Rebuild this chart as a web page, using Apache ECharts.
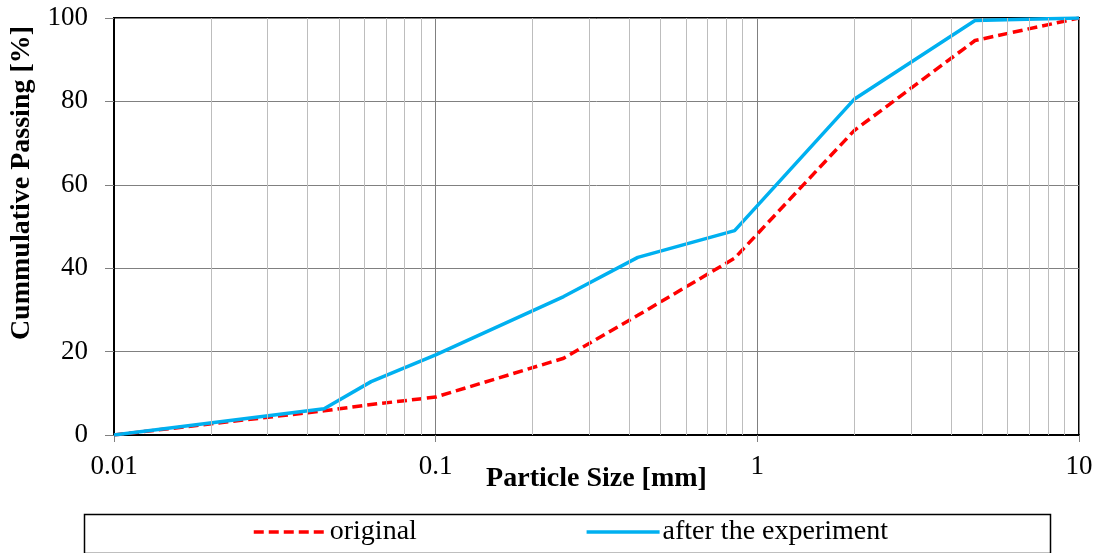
<!DOCTYPE html>
<html>
<head>
<meta charset="utf-8">
<script src="https://cdn.jsdelivr.net/npm/echarts@6/dist/echarts.min.js"></script>
<style>html,body{margin:0;padding:0;background:#fff;}#c{width:1098px;height:553px;}</style>
</head>
<body>
<div id="c"></div>
<script>
// ---- data ----
const sizes = [0.01, 0.045, 0.063, 0.1, 0.25, 0.425, 0.85, 2, 4.75, 10];
const original = [0, 5.8, 7.3, 9.1, 18.4, 28.7, 42.4, 73.0, 94.6, 100];
const afterExp = [0, 6.3, 12.8, 19.2, 33.2, 42.6, 49.0, 80.5, 99.4, 100];
const seriesNames = ['original', 'after the experiment'];
const xTickValues = [0.01, 0.1, 1, 10];
const xTickLabels = ['0.01', '0.1', '1', '10'];
const minorGridValues = [0.02,0.03,0.04,0.05,0.06,0.07,0.08,0.09,0.2,0.3,0.4,0.5,0.6,0.7,0.8,0.9,2,3,4,5,6,7,8,9];
const yTicks = [0, 20, 40, 60, 80, 100];

const FONT = '"Liberation Serif", "Times New Roman", serif';
const chart = echarts.init(document.getElementById('c'), null, {renderer: 'canvas'});

function pairs(xs, ys) { return xs.map((x, i) => [x, ys[i]]); }

chart.setOption({
  animation: false,
  backgroundColor: '#fff',
  grid: {left: 114, right: 19, top: 18, bottom: 118, show: true, borderColor: '#000', borderWidth: 2, backgroundColor: 'transparent'},
  xAxis: {
    type: 'log', logBase: 10, min: xTickValues[0], max: xTickValues[xTickValues.length - 1],
    name: 'Particle Size [mm]', nameLocation: 'middle', nameGap: 30, nameMoveOverlap: false,
    nameTextStyle: {fontFamily: FONT, fontSize: 28, fontWeight: 'bold', color: '#000'},
    axisLine: {lineStyle: {color: '#000', width: 2}},
    axisTick: {show: true, inside: false, length: 7, lineStyle: {color: '#808080'}},
    axisLabel: {fontFamily: FONT, fontSize: 27, color: '#000', margin: 18,
      formatter: v => { const i = xTickValues.findIndex(t => Math.abs(Math.log10(t) - Math.log10(v)) < 1e-6); return i >= 0 ? xTickLabels[i] : ''; }},
    splitLine: {show: true, lineStyle: {color: '#808080', width: 1}}
  },
  yAxis: {
    type: 'value', min: yTicks[0], max: yTicks[yTicks.length - 1], interval: 20,
    axisLine: {show: true, lineStyle: {color: '#000', width: 2}},
    axisTick: {show: true, inside: false, length: 9, lineStyle: {color: '#808080'}},
    axisLabel: {fontFamily: FONT, fontSize: 27, color: '#000', margin: 26},
    splitLine: {show: true, lineStyle: {color: '#808080', width: 1}}
  },
  legend: {
    left: 252, top: 518, padding: 0, itemGap: 168, itemWidth: 73, itemHeight: 14,
    textStyle: {fontFamily: FONT, fontSize: 28, color: '#000', padding: [0, 0, 0, -2]},
    itemStyle: {opacity: 0},
    lineStyle: {width: 3.5},
    data: seriesNames
  },
  graphic: [
    {type: 'rect', left: 82, top: 512, shape: {width: 966, height: 39}, style: {fill: 'none', stroke: '#000', lineWidth: 1.5}, silent: true, z: 0},
    {type: 'text', x: 22, y: 183, rotation: Math.PI / 2,
     style: {text: 'Cummulative Passing [%]', font: 'bold 28px ' + FONT, fill: '#000', align: 'center', verticalAlign: 'middle'}}
  ],
  series: [
    {
      type: 'line', name: '__minor', data: [], silent: true,
      markLine: {silent: true, symbol: 'none', label: {show: false},
        lineStyle: {color: '#bdbdbd', width: 1, type: 'solid'},
        data: minorGridValues.map(v => ({xAxis: v}))},
      z: 1
    },
    {
      type: 'line', name: seriesNames[0], data: pairs(sizes, original),
      showSymbol: false, symbol: 'none',
      lineStyle: {color: '#FF0000', width: 3.5, type: [10, 5]},
      itemStyle: {color: '#FF0000'}, z: 3
    },
    {
      type: 'line', name: seriesNames[1], data: pairs(sizes, afterExp),
      showSymbol: false, symbol: 'none',
      lineStyle: {color: '#00B0F0', width: 3.5},
      itemStyle: {color: '#00B0F0'}, z: 4
    }
  ]
});
</script>
</body>
</html>
